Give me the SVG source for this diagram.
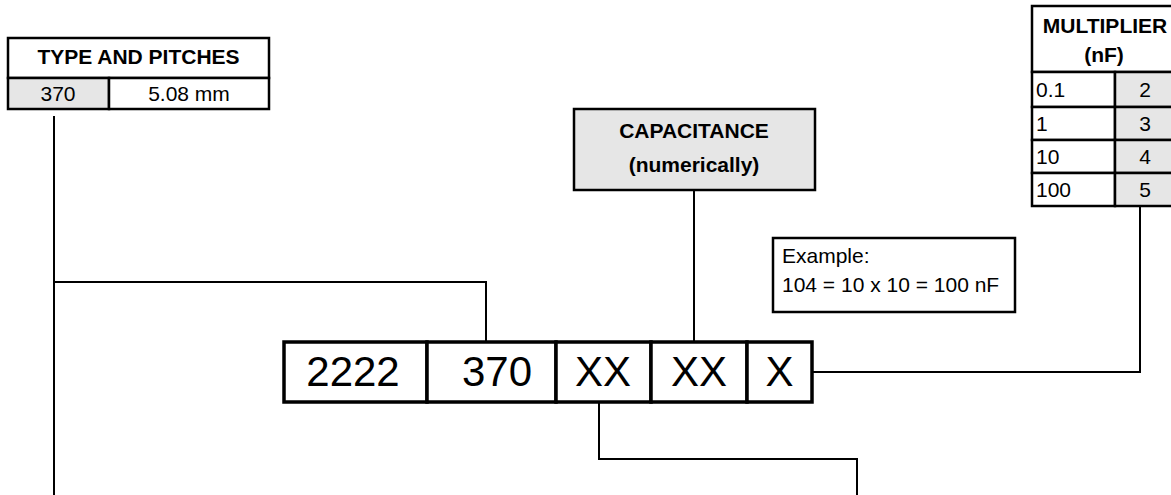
<svg xmlns="http://www.w3.org/2000/svg" width="1171" height="495" viewBox="0 0 1171 495">
  <style>
    .cell { fill: #ffffff; stroke: #000; stroke-width: 2.5; }
    .shade { fill: #e6e6e6; stroke: #000; stroke-width: 2.5; }
    .code { fill: #ffffff; stroke: #000; stroke-width: 3.5; }
    .wire { fill: none; stroke: #000; stroke-width: 2; }
    text { font-family: "Liberation Sans", Arial, sans-serif; fill: #000; }
    .hd { font-size: 21px; font-weight: bold; text-anchor: middle; }
    .tx { font-size: 21px; }
    .mid { text-anchor: middle; }
    .big { font-size: 42px; text-anchor: middle; }
  </style>

  <!-- connectors -->
  <g id="connectors">
    <path class="wire" d="M54 116 V495"/>
    <path class="wire" d="M54 282 H486 V343"/>
    <path class="wire" d="M694 190 V343"/>
    <path class="wire" d="M1140 206 V372 H812"/>
    <path class="wire" d="M599 401 V459 H857 V495"/>
  </g>

  <!-- type and pitches table -->
  <g id="type-pitches">
    <rect class="cell" x="8" y="38" width="261" height="40"/>
    <rect class="shade" x="8" y="78" width="101" height="31"/>
    <rect class="cell" x="109" y="78" width="160" height="31"/>
    <text class="hd" x="138.5" y="64">TYPE AND PITCHES</text>
    <text class="tx mid" x="58" y="101">370</text>
    <text class="tx mid" x="189" y="101">5.08 mm</text>
  </g>

  <!-- capacitance label -->
  <g id="capacitance">
    <rect class="shade" x="574" y="109" width="241" height="81"/>
    <text class="hd" x="694" y="138">CAPACITANCE</text>
    <text class="hd" x="694" y="172">(numerically)</text>
  </g>

  <!-- multiplier table -->
  <g id="multiplier">
    <rect class="cell" x="1032" y="6" width="150" height="66"/>
    <text class="hd" x="1105" y="33">MULTIPLIER</text>
    <text class="hd" x="1104" y="62">(nF)</text>
    <rect class="cell" x="1032" y="72" width="83" height="35"/>
    <rect class="shade" x="1115" y="72" width="67" height="35"/>
    <rect class="cell" x="1032" y="107" width="83" height="33"/>
    <rect class="shade" x="1115" y="107" width="67" height="33"/>
    <rect class="cell" x="1032" y="140" width="83" height="33"/>
    <rect class="shade" x="1115" y="140" width="67" height="33"/>
    <rect class="cell" x="1032" y="173" width="83" height="33"/>
    <rect class="shade" x="1115" y="173" width="67" height="33"/>
    <text class="tx" x="1036" y="97">0.1</text>
    <text class="tx mid" x="1145" y="97">2</text>
    <text class="tx" x="1036" y="131">1</text>
    <text class="tx mid" x="1145" y="131">3</text>
    <text class="tx" x="1036" y="164">10</text>
    <text class="tx mid" x="1145" y="164">4</text>
    <text class="tx" x="1036" y="197">100</text>
    <text class="tx mid" x="1145" y="197">5</text>
  </g>

  <!-- worked example -->
  <g id="example">
    <rect class="cell" x="773" y="238" width="242" height="74"/>
    <text class="tx" x="782" y="263">Example:</text>
    <text class="tx" x="782" y="292">104 = 10 x 10 = 100 nF</text>
  </g>

  <!-- part number code -->
  <g id="code-2222">
    <rect class="code" x="284" y="342" width="143" height="60"/>
    <text class="big" x="353" y="386">2222</text>
  </g>
  <g id="code-370">
    <rect class="code" x="427" y="342" width="129" height="60"/>
    <text class="big" x="497" y="386">370</text>
  </g>
  <g id="code-xx1">
    <rect class="code" x="556" y="342" width="95" height="60"/>
    <text class="big" x="603" y="386">XX</text>
  </g>
  <g id="code-xx2">
    <rect class="code" x="651" y="342" width="96" height="60"/>
    <text class="big" x="699" y="386">XX</text>
  </g>
  <g id="code-x">
    <rect class="code" x="747" y="342" width="65" height="60"/>
    <text class="big" x="779.5" y="386">X</text>
  </g>
</svg>
